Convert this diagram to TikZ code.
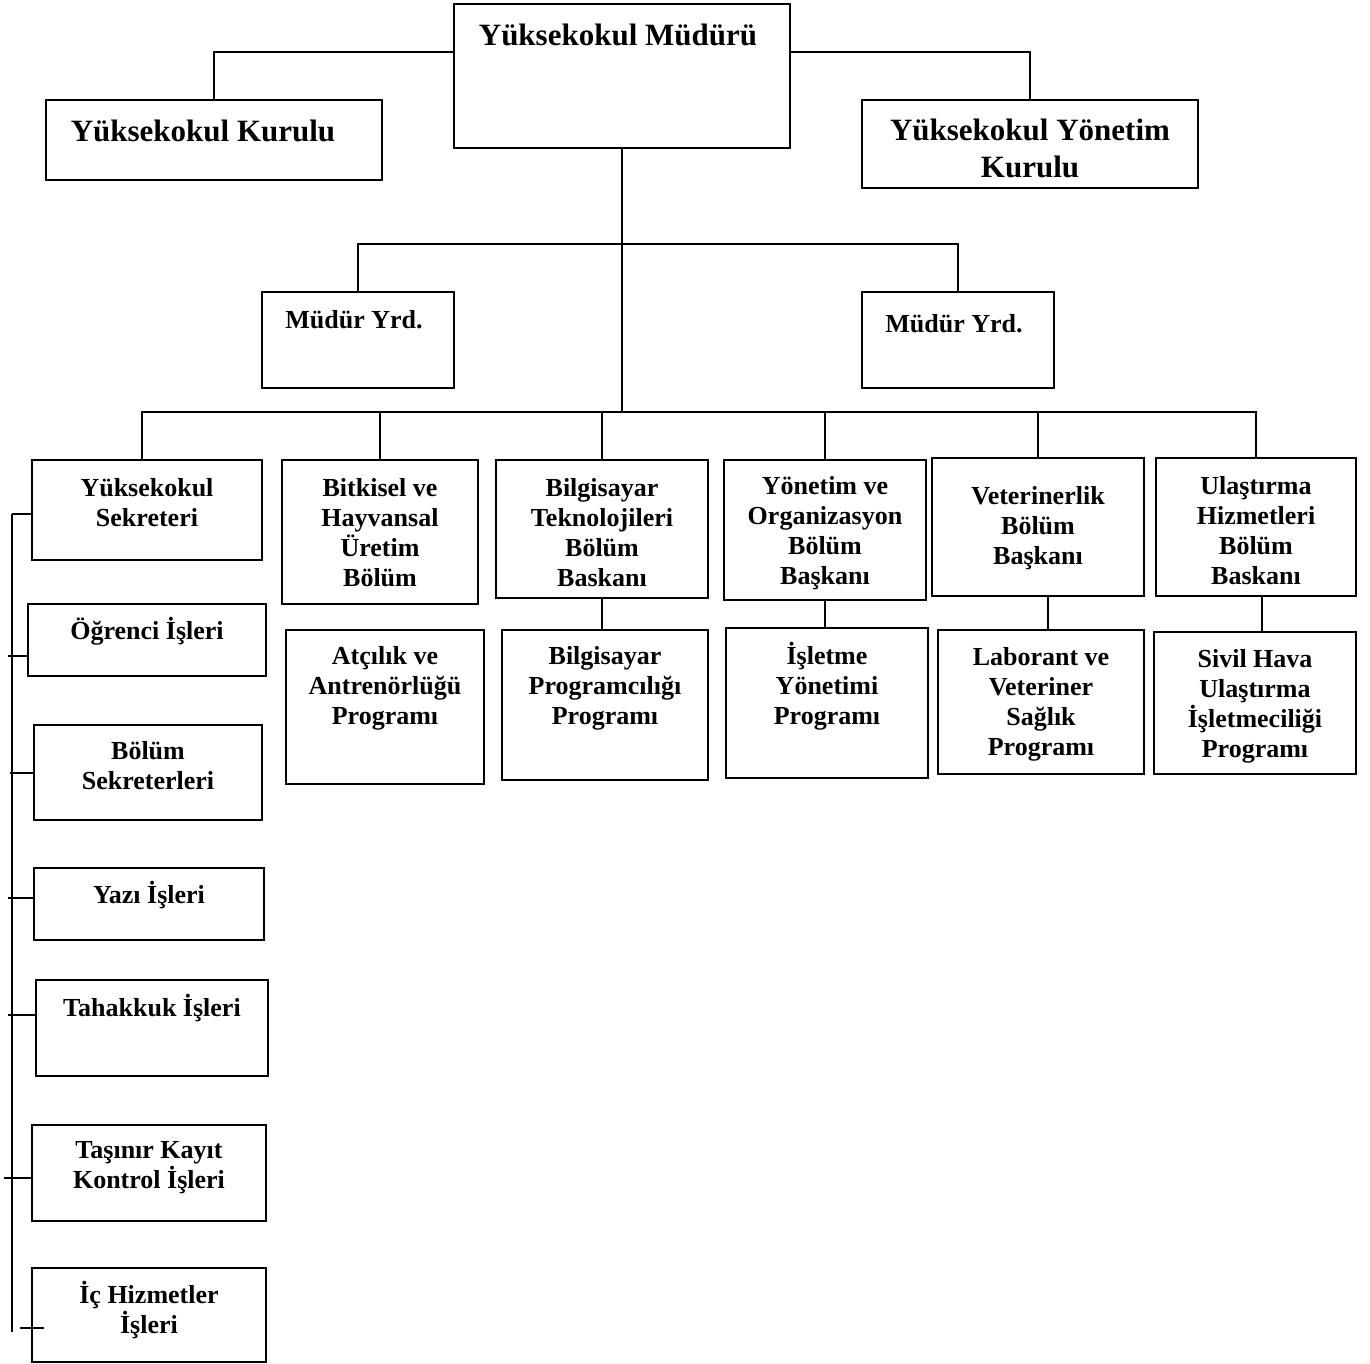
\documentclass[tikz,border=0pt]{standalone}
\usepackage{fontspec}
\setmainfont{Liberation Serif}
\usepackage{tikz}

\begin{document}
\begin{tikzpicture}[x=0.5pt, y=-0.5pt,
    box/.style={draw, line width=1pt, inner sep=0pt, outer sep=0pt},
    txt/.style={align=center, inner sep=0pt, font=\bfseries\fontsize{13}{15}\selectfont},
    bigtxt/.style={align=center, inner sep=0pt, font=\bfseries\fontsize{15.5}{18.5}\selectfont},
    every path/.style={line width=1pt}]
            \useasboundingbox (0,0) rectangle (1370,1364);

            % Top
            \node[box, minimum width=168pt, minimum height=72pt] (mudur) at (622,76) {};
            \node[box, minimum width=168pt, minimum height=40pt] (kurulu) at (214,140) {};
            \node[box, minimum width=168pt, minimum height=44pt] (ykurulu) at (1030,144) {};
            \node[bigtxt] (mudurt) at (618,35) {Yüksekokul Müdürü};
            \node[bigtxt] (kurulut) at (203,131) {Yüksekokul Kurulu};
            \node[bigtxt] (ykurulut) at (1030,148) {Yüksekokul Yönetim\\Kurulu};

            % Yardimcilar
            \node[box, minimum width=96pt, minimum height=48pt] (yrd1) at (358,340) {};
            \node[box, minimum width=96pt, minimum height=48pt] (yrd2) at (958,340) {};
            \node[txt] (yrd1t) at (354,320) {Müdür Yrd.};
            \node[txt] (yrd2t) at (954,324) {Müdür Yrd.};

            % Bolumler
            \node[box, minimum width=115pt, minimum height=50pt] (sekr) at (147,510) {};
            \node[box, minimum width=98pt, minimum height=72pt] (bitki) at (380,532) {};
            \node[box, minimum width=106pt, minimum height=69pt] (bilg) at (602,529) {};
            \node[box, minimum width=101pt, minimum height=70pt] (yonet) at (825,530) {};
            \node[box, minimum width=106pt, minimum height=69pt] (veter) at (1038,527) {};
            \node[box, minimum width=100pt, minimum height=69pt] (ulas) at (1256,527) {};
            \node[txt] (sekrt) at (147,503) {Yüksekokul\\Sekreteri};
            \node[txt] (bitkit) at (380,533) {Bitkisel ve\\Hayvansal\\Üretim\\Bölüm};
            \node[txt] (bilgt) at (602,533) {Bilgisayar\\Teknolojileri\\Bölüm\\Baskanı};
            \node[txt] (yonett) at (825,533) {Yönetim ve\\Organizasyon\\Bölüm\\Başkanı};
            \node[txt] (vetert) at (1038,528) {Veterinerlik\\Bölüm\\Başkanı};
            \node[txt] (ulast) at (1256,531) {Ulaştırma\\Hizmetleri\\Bölüm\\Baskanı};

            % Programlar
            \node[box, minimum width=99pt, minimum height=77pt] (atcilik) at (385,707) {};
            \node[box, minimum width=103pt, minimum height=75pt] (bprog) at (605,705) {};
            \node[box, minimum width=101pt, minimum height=75pt] (islet) at (827,703) {};
            \node[box, minimum width=103pt, minimum height=72pt] (labor) at (1041,702) {};
            \node[box, minimum width=101pt, minimum height=71pt] (sivil) at (1255,703) {};
            \node[txt] (atciliket) at (385,688) {Atçılık ve\\Antrenörlüğü\\Programı};
            \node[txt] (bprogt) at (605,688) {Bilgisayar\\Programcılığı\\Programı};
            \node[txt] (islett) at (827,686) {İşletme\\Yönetimi\\Programı};
            \node[txt] (labort) at (1041,704) {Laborant ve\\Veteriner\\Sağlık\\Programı};
            \node[txt] (sivilt) at (1255,706) {Sivil Hava\\Ulaştırma\\İşletmeciliği\\Programı};

            % Sekreterlik birimleri
            \node[box, minimum width=119pt, minimum height=36pt] (ogr) at (147,640) {};
            \node[box, minimum width=114pt, minimum height=47.5pt] (bsek) at (148,772.5) {};
            \node[box, minimum width=115pt, minimum height=36pt] (yazi) at (149,904) {};
            \node[box, minimum width=116pt, minimum height=48pt] (tahak) at (152,1028) {};
            \node[box, minimum width=117pt, minimum height=48pt] (tasinir) at (149,1173) {};
            \node[box, minimum width=117pt, minimum height=47pt] (ichiz) at (149,1315) {};
            \node[txt] (ogrt) at (147,631) {Öğrenci İşleri};
            \node[txt] (bsekt) at (148,766) {Bölüm\\Sekreterleri};
            \node[txt] (yazit) at (149,895) {Yazı İşleri};
            \node[txt] (tahakt) at (152,1008) {Tahakkuk İşleri};
            \node[txt] (tasinirt) at (149,1168) {Taşınır Kayıt\\Kontrol İşleri};
            \node[txt] (ichizt) at (149,1310) {İç Hizmetler\\İşleri};

            % Lines
            \coordinate (b1) at (622,244);
            \coordinate (b2) at (622,412);
            \coordinate (vtop) at (12,514);
            \coordinate (vbot) at (12,1332);
            \draw ([yshift=12pt]mudur.west) -| (kurulu.north);
            \draw ([yshift=12pt]mudur.east) -| (ykurulu.north);
            \draw (mudur.south) -- (b2);
            \draw (yrd1.north) |- (b1) -| (yrd2.north);
            \draw ([xshift=-2.5pt]sekr.north) |- (b2) -| (ulas.north);
            \foreach \n in {bitki, bilg, yonet, veter}
                \draw (\n.north) -- (\n.north |- b2);
            \draw (bilg.south) -- (bilg.south |- bprog.north);
            \draw (yonet.south) -- (yonet.south |- islet.north);
            \draw ([xshift=5pt]veter.south) -- ([xshift=5pt]veter.south |- labor.north);
            \draw ([xshift=3pt]ulas.south) -- ([xshift=3pt]ulas.south |- sivil.north);

            % Sekreterlik hatti
            \draw (vtop) -- (vbot);
            \draw (sekr.west |- vtop) -- (vtop);
            \draw ([yshift=-8pt]ogr.west) -- ++(-20,0);
            \draw (bsek.west) -- ++(-24,0);
            \draw ([yshift=3pt]yazi.west) -- ++(-26,0);
            \draw ([yshift=6.5pt]tahak.west) -- ++(-28,0);
            \draw ([yshift=-2.5pt]tasinir.west) -- ++(-28,0);
            \draw ([yshift=-6.5pt,xshift=6pt]ichiz.west) -- ++(-24,0);
        \end{tikzpicture}
\end{document}
